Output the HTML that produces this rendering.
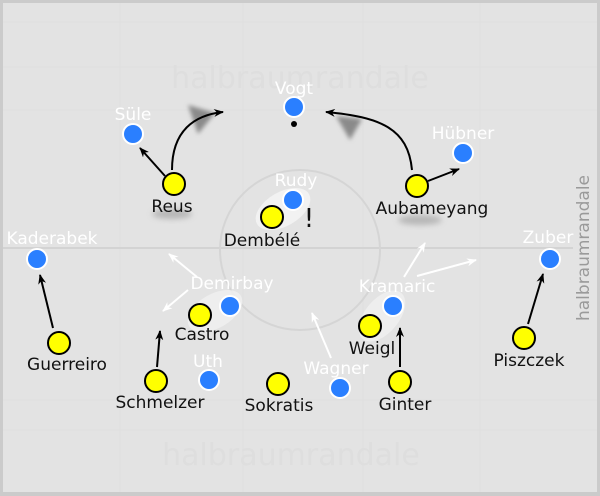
<!DOCTYPE html>
<html><head><meta charset="utf-8"><style>
html,body{margin:0;padding:0;background:#e3e3e3}
svg{display:block}
text{font-family:"DejaVu Sans","Liberation Sans",sans-serif;font-size:17px;text-anchor:middle}
.w{fill:#fff}.k{fill:#111}
</style></head><body>
<svg width="600" height="496" viewBox="0 0 600 496" xmlns="http://www.w3.org/2000/svg">
<defs>
<marker id="ab" markerWidth="10" markerHeight="8" refX="9" refY="4" orient="auto" markerUnits="userSpaceOnUse"><path d="M0,0 L10,4 L0,8 L3,4 Z" fill="#000"/></marker>
<marker id="aw" markerWidth="10" markerHeight="8" refX="9" refY="4" orient="auto" markerUnits="userSpaceOnUse"><path d="M0,0 L10,4 L0,8 L3,4 Z" fill="#fff"/></marker>
<filter id="bl" x="-50%" y="-50%" width="200%" height="200%"><feGaussianBlur stdDeviation="3"/></filter>
<filter id="bl2" x="-50%" y="-50%" width="200%" height="200%"><feGaussianBlur stdDeviation="2"/></filter>
</defs>
<rect x="0" y="0" width="600" height="496" fill="#cbcbcb"/>
<rect x="3" y="3" width="594" height="489" fill="#e3e3e3"/>
<g stroke="#dfdfdf" stroke-width="1" fill="none">
<line x1="120" y1="3" x2="120" y2="492"/><line x1="243" y1="3" x2="243" y2="492"/><line x1="363" y1="3" x2="363" y2="492"/><line x1="480" y1="3" x2="480" y2="492"/>
<line x1="3" y1="22" x2="597" y2="22"/><line x1="3" y1="67" x2="597" y2="67"/><line x1="3" y1="110" x2="597" y2="110"/><line x1="3" y1="400" x2="597" y2="400"/><line x1="3" y1="430" x2="597" y2="430"/>
</g>
<line x1="3" y1="248" x2="573" y2="248" stroke="#d3d3d3" stroke-width="2"/>
<circle cx="300" cy="250" r="80" fill="none" stroke="#d5d5d5" stroke-width="2"/>
<text x="300" y="88" style="font-size:30px;fill:#dedede">halbraumrandale</text>
<text x="291" y="465" style="font-size:30px;fill:#dedede">halbraumrandale</text>
<text x="0" y="0" transform="translate(589,248) rotate(-90)" style="font-size:17px;fill:#9a9a9a">halbraumrandale</text>
<path d="M188,105 L215,113 L198,134 Z" fill="#8a8a8a" filter="url(#bl2)"/>
<path d="M336,116 L362,119 L350,140 Z" fill="#8a8a8a" filter="url(#bl2)"/>
<ellipse cx="172" cy="214" rx="20" ry="5" fill="#999" filter="url(#bl)" opacity="0.6"/>
<ellipse cx="420" cy="220" rx="22" ry="5" fill="#999" filter="url(#bl)" opacity="0.6"/>
<ellipse cx="283" cy="209" rx="30" ry="17" transform="rotate(-30 283 209)" fill="#f5f5f5" opacity="0.85"/>
<ellipse cx="215" cy="311" rx="30" ry="17" transform="rotate(-30 215 311)" fill="#f0f0f0" opacity="0.85"/>
<ellipse cx="382" cy="316" rx="30" ry="17" transform="rotate(-50 382 316)" fill="#f0f0f0" opacity="0.85"/>
<g stroke="#000" stroke-width="2" fill="none" marker-end="url(#ab)">
<line x1="165" y1="176" x2="140" y2="148"/>
<path d="M172,170 C172,130 195,115 223,112"/>
<path d="M412,170 C408,128 380,117 326,112"/>
<line x1="428" y1="181" x2="459" y2="169"/>
<line x1="53" y1="328" x2="40" y2="275"/>
<line x1="528" y1="324" x2="543" y2="274"/>
<line x1="157" y1="367" x2="160" y2="331"/>
<line x1="400" y1="367" x2="400" y2="328"/>
</g>
<g stroke="#fff" stroke-width="2" fill="none" marker-end="url(#aw)">
<line x1="197" y1="277" x2="169" y2="254"/>
<line x1="188" y1="290" x2="163" y2="311"/>
<line x1="404" y1="277" x2="425" y2="243"/>
<line x1="417" y1="276" x2="476" y2="260"/>
<line x1="331" y1="358" x2="312" y2="313"/>
</g>
<circle cx="294" cy="124" r="3" fill="#000"/>
<text x="309" y="227" style="font-size:26px;fill:#111">!</text>
<g fill="#2a7fff" stroke="#fff" stroke-width="2">
<circle cx="294" cy="107" r="10"/><circle cx="133" cy="134" r="10"/><circle cx="463" cy="153" r="10"/>
<circle cx="293" cy="200" r="10"/><circle cx="37" cy="259" r="10"/><circle cx="550" cy="259" r="10"/>
<circle cx="230" cy="306" r="10"/><circle cx="393" cy="306" r="10"/><circle cx="209" cy="380" r="10"/><circle cx="340" cy="388" r="10"/>
</g>
<g fill="#ffff00" stroke="#000" stroke-width="2">
<circle cx="174" cy="184" r="11"/><circle cx="417" cy="186" r="11"/><circle cx="272" cy="217" r="11"/>
<circle cx="200" cy="315" r="11"/><circle cx="370" cy="326" r="11"/><circle cx="59" cy="343" r="11"/>
<circle cx="524" cy="338" r="11"/><circle cx="156" cy="381" r="11"/><circle cx="278" cy="384" r="11"/><circle cx="400" cy="382" r="11"/>
</g>
<g>
<text x="294" y="94" class="w">Vogt</text><text x="133" y="120" class="w">Süle</text><text x="463" y="139" class="w">Hübner</text>
<text x="296" y="186" class="w">Rudy</text><text x="52" y="244" class="w">Kaderabek</text><text x="548" y="243" class="w">Zuber</text>
<text x="232" y="289" class="w">Demirbay</text><text x="397" y="292" class="w">Kramaric</text><text x="208" y="367" class="w">Uth</text><text x="336" y="374" class="w">Wagner</text>
</g>
<g>
<text x="172" y="212" class="k">Reus</text><text x="432" y="214" class="k">Aubameyang</text><text x="262" y="246" class="k">Dembélé</text>
<text x="202" y="340" class="k">Castro</text><text x="372" y="354" class="k">Weigl</text><text x="67" y="370" class="k">Guerreiro</text>
<text x="529" y="366" class="k">Piszczek</text><text x="160" y="408" class="k">Schmelzer</text><text x="279" y="411" class="k">Sokratis</text><text x="405" y="410" class="k">Ginter</text>
</g>
</svg>
</body></html>
